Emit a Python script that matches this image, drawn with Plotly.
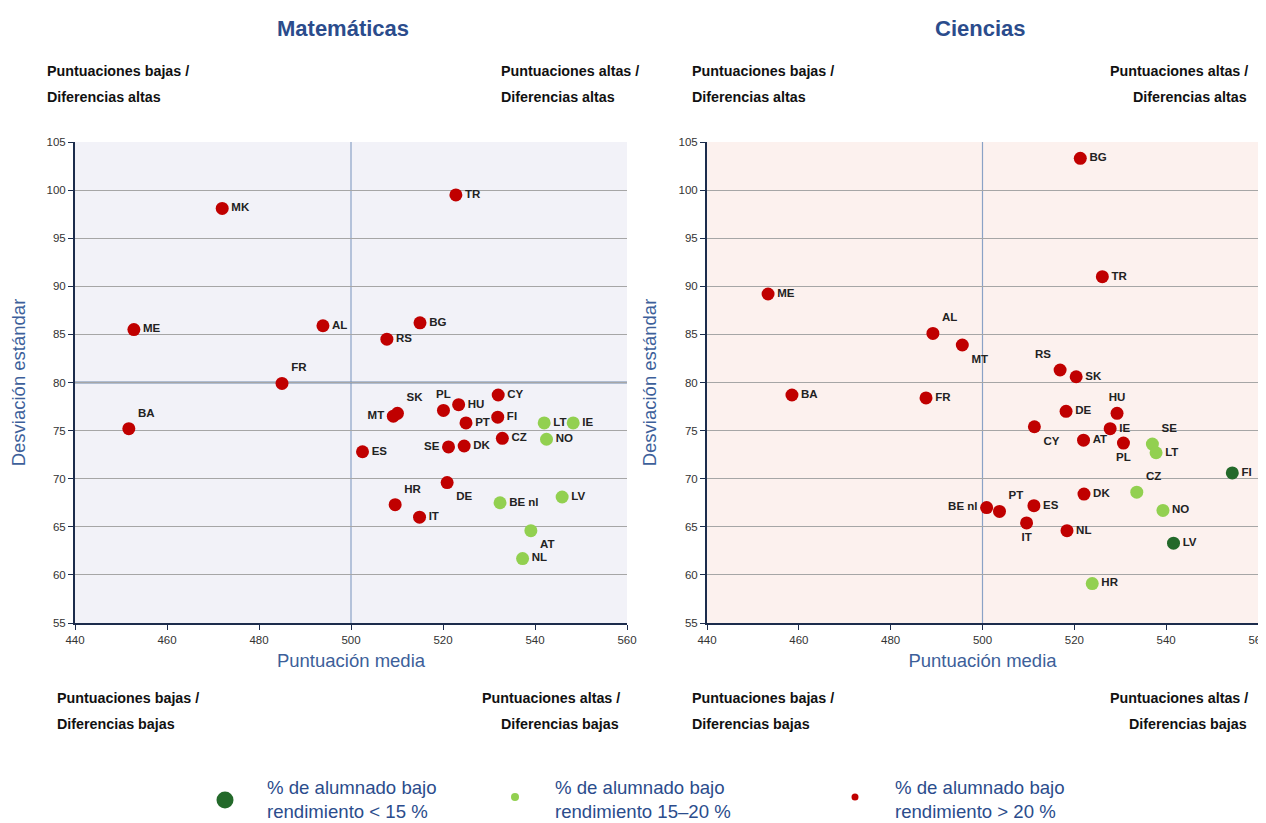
import plotly.graph_objects as go

# ---------------- data ----------------
math_countries = ["MK", "TR", "ME", "AL", "BG", "RS", "FR", "BA", "MT", "SK", "PL", "HU", "CY", "FI",
                  "PT", "LT", "IE", "CZ", "NO", "SE", "DK", "ES", "DE", "HR", "IT", "BE nl", "LV", "AT", "NL"]
math_score = [472.0, 522.8, 452.8, 493.9, 515.0, 507.8, 485.0, 451.7, 509.2, 510.1, 520.1, 523.4, 532.0, 531.9,
              525.0, 542.0, 548.3, 532.9, 542.5, 521.2, 524.6, 502.5, 520.9, 509.6, 514.9, 532.4, 545.9, 539.1, 537.3]
math_sd = [98.1, 99.5, 85.5, 85.9, 86.2, 84.5, 79.9, 75.2, 76.5, 76.8, 77.1, 77.7, 78.7, 76.4,
           75.8, 75.8, 75.8, 74.2, 74.1, 73.3, 73.4, 72.8, 69.6, 67.3, 66.0, 67.5, 68.1, 64.6, 61.7]
math_group = ["high", "high", "high", "high", "high", "high", "high", "high", "high", "high", "high", "high", "high", "high",
              "high", "mid", "mid", "high", "mid", "high", "high", "high", "high", "high", "high", "mid", "mid", "mid", "mid"]
math_labelpos = ["middle right", "middle right", "middle right", "middle right", "middle right", "middle right",
                 "top right", "top right", "middle left", "top right", "top center", "middle right", "middle right",
                 "middle right", "middle right", "middle right", "middle right", "middle right", "middle right",
                 "middle left", "middle right", "middle right", "bottom right", "top right", "middle right",
                 "middle right", "middle right", "bottom right", "middle right"]

sci_countries = ["BG", "TR", "ME", "AL", "MT", "RS", "SK", "BA", "FR", "HU", "DE", "CY", "IE", "AT",
                 "PL", "SE", "LT", "FI", "CZ", "DK", "NO", "LV", "PT", "BE nl", "ES", "IT", "NL", "HR"]
sci_score = [521.3, 526.1, 453.3, 489.2, 495.6, 516.9, 520.4, 458.5, 487.7, 529.3, 518.2, 511.3, 527.8, 522.0,
             530.7, 537.0, 537.8, 554.4, 533.6, 522.1, 539.3, 541.6, 503.7, 500.9, 511.2, 509.6, 518.4, 523.9]
sci_sd = [103.3, 91.0, 89.2, 85.1, 83.9, 81.3, 80.6, 78.7, 78.4, 76.8, 77.0, 75.4, 75.2, 74.0,
          73.7, 73.6, 72.7, 70.6, 68.6, 68.4, 66.7, 63.3, 66.6, 67.0, 67.2, 65.4, 64.6, 59.1]
sci_group = ["high", "high", "high", "high", "high", "high", "high", "high", "high", "high", "high", "high", "high", "high",
             "high", "mid", "mid", "low", "mid", "high", "mid", "low", "high", "high", "high", "high", "high", "mid"]
sci_labelpos = ["middle right", "middle right", "middle right", "top right", "bottom right", "top left",
                "middle right", "middle right", "middle right", "top center", "middle right", "bottom right",
                "middle right", "middle right", "bottom center", "top right", "middle right", "middle right",
                "top right", "middle right", "middle right", "middle right", "top right", "middle left",
                "middle right", "bottom center", "middle right", "middle right"]

group_colors = {"low": "#23692a", "mid": "#92d050", "high": "#c00000"}
legend_groups = ["low", "mid", "high"]
legend_labels = ["% de alumnado bajo<br>rendimiento < 15 %",
                 "% de alumnado bajo<br>rendimiento 15–20 %",
                 "% de alumnado bajo<br>rendimiento > 20 %"]

x_ticks = [440, 460, 480, 500, 520, 540, 560]
y_ticks = [55, 60, 65, 70, 75, 80, 85, 90, 95, 100, 105]
x_ref = 500
y_ref = 80

W, H = 1266, 823
OFF = 8  # page body margin
FONT = "Liberation Sans"
BLUE = "#2b4c8c"

fig = go.Figure()

def add_panel(countries, score, sd, group, pos, xa, ya):
    fig.add_trace(go.Scatter(
        x=score, y=sd, mode="markers+text", text=countries, textposition=pos,
        textfont=dict(family=FONT, size=11.5, color="#222222", weight="bold"),
        marker=dict(size=13, color=[group_colors[g] for g in group], line=dict(width=0)),
        xaxis=xa, yaxis=ya, showlegend=False, cliponaxis=False, hoverinfo="text+x+y"))

add_panel(math_countries, math_score, math_sd, math_group, math_labelpos, "x", "y")
add_panel(sci_countries, sci_score, sci_sd, sci_group, sci_labelpos, "x2", "y2")

def px(xp):
    return (xp - OFF) / W

def py(yp):
    return 1 - (yp - OFF) / H

axis_common = dict(showline=True, linecolor="#1c2c4c", linewidth=2, ticks="outside", ticklen=5,
                   tickcolor="#1c2c4c", tickfont=dict(family=FONT, size=11.5, color="#333333"),
                   zeroline=False, automargin=False)
xcommon = dict(axis_common, range=[440, 560], tickvals=x_ticks, showgrid=False,
               title=dict(text="Puntuación media", font=dict(family=FONT, size=18.5, color="#3d5f9a"), standoff=9))
ycommon = dict(axis_common, range=[55, 105], tickvals=y_ticks, showgrid=True, gridcolor="#a6a6a6", gridwidth=1,
               title=dict(text="Desviación estándar", font=dict(family=FONT, size=18.5, color="#3d5f9a"), standoff=17))

fig.update_layout(
    width=W, height=H, margin=dict(l=0, r=0, t=0, b=0, autoexpand=False),
    paper_bgcolor="white", plot_bgcolor="white", showlegend=False,
    xaxis=dict(xcommon, domain=[px(75), px(627)], anchor="y"),
    yaxis=dict(ycommon, domain=[py(623), py(142)], anchor="x"),
    xaxis2=dict(xcommon, domain=[px(707), px(1258)], anchor="y2"),
    yaxis2=dict(ycommon, domain=[py(623), py(142)], anchor="x2"),
)

shapes = []
# panel backgrounds
shapes.append(dict(type="rect", xref="x domain", yref="y domain", x0=0, x1=1, y0=0, y1=1,
                   fillcolor="#f2f2f8", line=dict(width=0), layer="below"))
shapes.append(dict(type="rect", xref="x2 domain", yref="y2 domain", x0=0, x1=1, y0=0, y1=1,
                   fillcolor="#fcf1ee", line=dict(width=0), layer="below"))
# reference lines
shapes.append(dict(type="line", xref="x", yref="y domain", x0=x_ref, x1=x_ref, y0=0, y1=1,
                   line=dict(color="#8aa2c6", width=1.2), layer="below"))
shapes.append(dict(type="line", xref="x domain", yref="y", x0=0, x1=1, y0=y_ref, y1=y_ref,
                   line=dict(color="#6f87ab", width=2), layer="below"))
shapes.append(dict(type="line", xref="x2", yref="y2 domain", x0=x_ref, x1=x_ref, y0=0, y1=1,
                   line=dict(color="#8aa2c6", width=1.2), layer="below"))
shapes.append(dict(type="line", xref="x2 domain", yref="y2", x0=0, x1=1, y0=y_ref, y1=y_ref,
                   line=dict(color="#8aa2c6", width=1.2), layer="below"))

# legend dots
legend_dot = [(225, 800, 8.5), (515, 797, 4), (855, 797, 3.5)]
for g, (cx, cy, r) in zip(legend_groups, legend_dot):
    shapes.append(dict(type="circle", xref="paper", yref="paper",
                       x0=px(cx - r), x1=px(cx + r), y0=py(cy + r), y1=py(cy - r),
                       fillcolor=group_colors[g], line=dict(width=0)))
fig.update_layout(shapes=shapes)

ann = []
# titles
for text, cx in [("Matemáticas", 343), ("Ciencias", 980)]:
    ann.append(dict(text=f"<b>{text}</b>", x=px(cx), y=py(29), xref="paper", yref="paper",
                    showarrow=False, xanchor="center", yanchor="middle",
                    font=dict(family=FONT, size=22, color=BLUE)))

# corner labels
corner = [
    ("Puntuaciones bajas /", 45, 71, "left"), ("Diferencias altas", 45, 97, "left"),
    ("Puntuaciones altas /", 499, 71, "left"), ("Diferencias altas", 499, 97, "left"),
    ("Puntuaciones bajas /", 55, 698, "left"), ("Diferencias bajas", 55, 724, "left"),
    ("Puntuaciones altas /", 622, 698, "right"), ("Diferencias bajas", 621, 724, "right"),
    ("Puntuaciones bajas /", 690, 71, "left"), ("Diferencias altas", 690, 97, "left"),
    ("Puntuaciones altas /", 1250, 71, "right"), ("Diferencias altas", 1249, 97, "right"),
    ("Puntuaciones bajas /", 690, 698, "left"), ("Diferencias bajas", 690, 724, "left"),
    ("Puntuaciones altas /", 1250, 698, "right"), ("Diferencias bajas", 1249, 724, "right"),
]
for text, x, y, anchor in corner:
    ann.append(dict(text=f"<b>{text}</b>", x=px(x), y=py(y), xref="paper", yref="paper",
                    showarrow=False, xanchor=anchor, yanchor="middle",
                    font=dict(family=FONT, size=14.3, color="#111111")))

# legend texts
for label, lx in zip(legend_labels, [265, 553, 893]):
    ann.append(dict(text=label, x=px(lx), y=py(799), xref="paper", yref="paper",
                    showarrow=False, xanchor="left", yanchor="middle", align="left",
                    font=dict(family=FONT, size=18.6, color=BLUE)))
fig.update_layout(annotations=ann)

fig.write_html("out.html")
